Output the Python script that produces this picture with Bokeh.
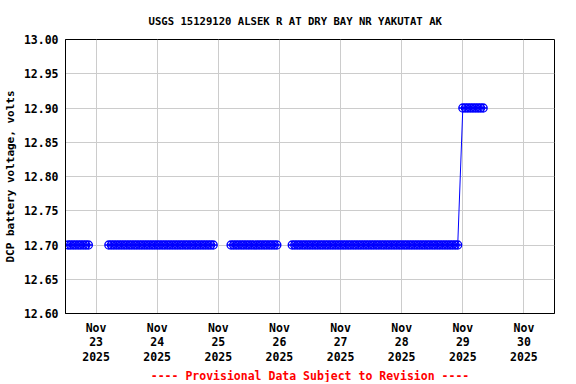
import numpy as np
import pandas as pd
from bokeh.plotting import figure
from bokeh.models import FixedTicker, Range1d, Title, NumeralTickFormatter
from bokeh.embed import file_html
from bokeh.resources import INLINE

# ---- data (hourly DCP battery voltage readings) ----
seg_starts = ["2025-11-22 13:00", "2025-11-23 05:00", "2025-11-25 05:00", "2025-11-26 05:00", "2025-11-29 00:00"]
seg_ends   = ["2025-11-22 21:00", "2025-11-24 22:00", "2025-11-25 23:00", "2025-11-28 22:00", "2025-11-29 08:00"]
seg_values = [12.70, 12.70, 12.70, 12.70, 12.90]
seg_break_after = [True, True, True, False, False]   # line gap after segment

tick_dates = ["2025-11-23", "2025-11-24", "2025-11-25", "2025-11-26",
              "2025-11-27", "2025-11-28", "2025-11-29", "2025-11-30"]
tick_labels = ["Nov\n23\n2025", "Nov\n24\n2025", "Nov\n25\n2025", "Nov\n26\n2025",
               "Nov\n27\n2025", "Nov\n28\n2025", "Nov\n29\n2025", "Nov\n30\n2025"]
y_ticks = [12.60, 12.65, 12.70, 12.75, 12.80, 12.85, 12.90, 12.95, 13.00]
x_start, x_end = "2025-11-22 12:00", "2025-11-30 12:00"

title_text = "USGS 15129120 ALSEK R AT DRY BAY NR YAKUTAT AK"
ylabel_text = "DCP battery voltage, volts"
footer_text = "---- Provisional Data Subject to Revision ----"

# ---- build series ----
pt_t, pt_v, ln_t, ln_v = [], [], [], []
for s, e, v, brk in zip(seg_starts, seg_ends, seg_values, seg_break_after):
    ts = list(pd.date_range(s, e, freq="h"))
    pt_t += ts
    pt_v += [v] * len(ts)
    ln_t += ts
    ln_v += [v] * len(ts)
    if brk:
        ln_t.append(ts[-1] + pd.Timedelta(minutes=30))
        ln_v.append(np.nan)

def ms(s):
    return int(pd.Timestamp(s).value // 10**6)

FONT = "DejaVu Sans Mono"

p = figure(width=574, height=382, x_axis_type="datetime",
           x_range=Range1d(pd.Timestamp(x_start), pd.Timestamp(x_end)),
           y_range=Range1d(12.6, 13.0),
           output_backend="svg", toolbar_location=None,
           min_border_left=65, min_border_right=20, min_border_top=39, min_border_bottom=0)

p.title.text = title_text
p.title.align = "left"
p.title.offset = 83
p.title.text_font = FONT
p.title.text_font_style = "bold"
p.title.text_font_size = "10.6px"
p.title.text_color = "black"
p.title.standoff = 25

xt = FixedTicker(ticks=[ms(d) for d in tick_dates])
p.xaxis.ticker = xt
p.xgrid.ticker = xt
p.xaxis.major_label_overrides = {ms(d): lab for d, lab in zip(tick_dates, tick_labels)}
yt = FixedTicker(ticks=y_ticks)
p.yaxis.ticker = yt
p.ygrid.ticker = yt
p.yaxis.formatter = NumeralTickFormatter(format="0.00")
p.yaxis.axis_label = ylabel_text

for ax in (p.xaxis, p.yaxis):
    ax.major_label_text_font = FONT
    ax.major_label_text_font_style = "bold"
    ax.major_label_text_font_size = "11.5px"
    ax.major_label_text_color = "black"
    ax.axis_label_text_font = FONT
    ax.axis_label_text_font_style = "bold"
    ax.axis_label_text_font_size = "11px"
    ax.axis_label_text_color = "black"
    ax.major_tick_line_color = None
    ax.minor_tick_line_color = None
    ax.axis_line_color = "black"
    ax.major_tick_out = 0
    ax.major_tick_in = 0
p.xaxis.major_label_standoff = 7
p.xaxis.major_label_text_line_height = 1.05
p.yaxis.major_label_standoff = 7
p.yaxis.axis_label_standoff = 4

p.xgrid.grid_line_color = "#cccccc"
p.ygrid.grid_line_color = "#cccccc"
p.outline_line_color = "black"
p.outline_line_alpha = 1
p.background_fill_color = "white"
p.border_fill_color = "white"

p.line(ln_t, ln_v, line_color="blue", line_width=1)
p.scatter(pt_t, pt_v, marker="circle_cross", size=8, line_color="blue",
          fill_color=None, line_width=1.3)

p.add_layout(Title(text=footer_text, align="center", text_color="red",
                   text_font=FONT, text_font_style="bold", text_font_size="11.5px",
                   standoff=0), "below")

open("out.html", "w").write(file_html(p, INLINE))
